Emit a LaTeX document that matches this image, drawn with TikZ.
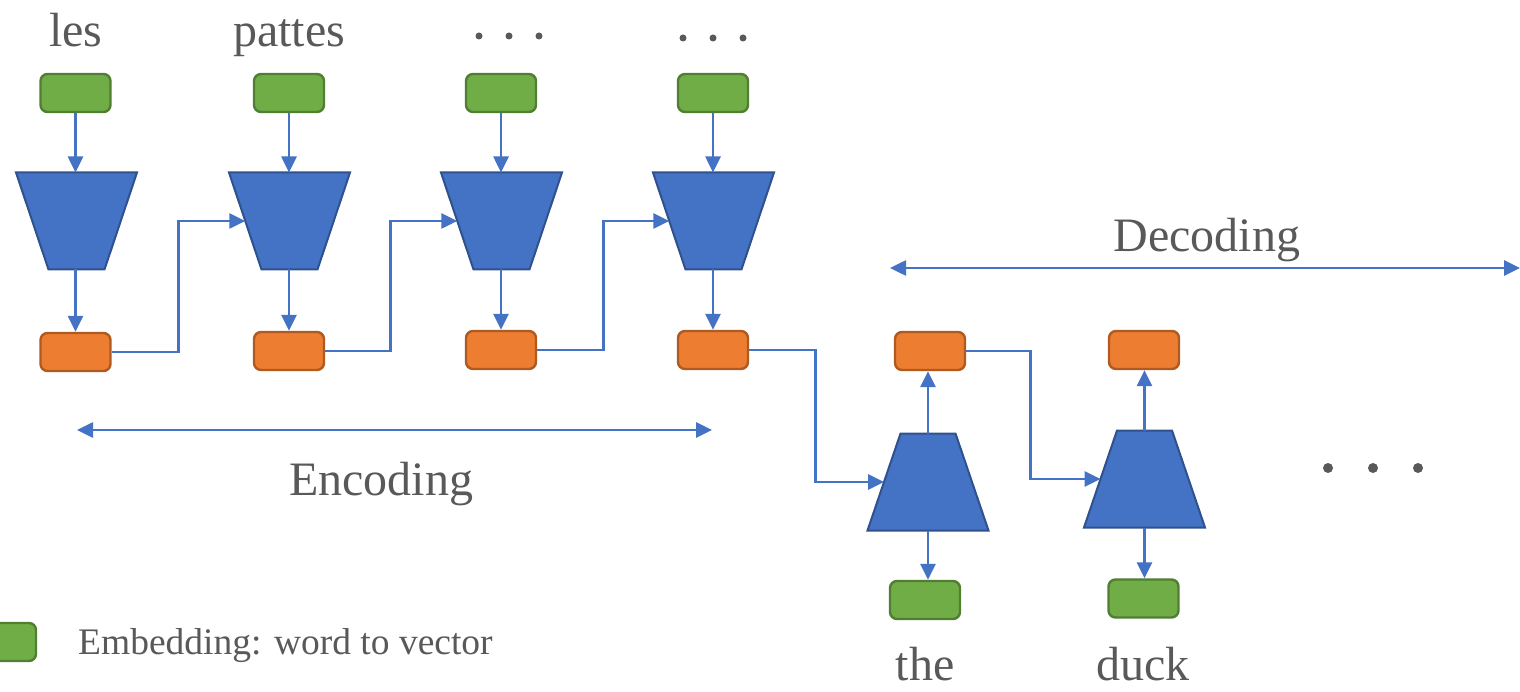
\documentclass[tikz,border=0pt]{standalone}
\usepackage{fontspec}
\setmainfont{Liberation Serif}
\usetikzlibrary{arrows.meta}

\definecolor{embfill}{HTML}{70AD47}
\definecolor{embdraw}{HTML}{507E32}
\definecolor{hidfill}{HTML}{ED7D31}
\definecolor{hiddraw}{HTML}{AE5A21}
\definecolor{netfill}{HTML}{4472C4}
\definecolor{netdraw}{HTML}{2F528F}
\definecolor{linkblue}{HTML}{4472C4}
\definecolor{txtgray}{HTML}{595959}

% A recurrent cell: a trapezoid inside the named frame #1,
% half widths #2 (top) and #3 (bottom); (#1-in) is the middle of its left side.
\newcommand\rnncell[3]{%
  \path[cellstyle] ([xshift=-#2pt]#1.north) -- ([xshift=#2pt]#1.north)
    -- ([xshift=#3pt]#1.south) -- ([xshift=-#3pt]#1.south) -- cycle;
  \coordinate (#1-in) at ([xshift={-(#2+#3)/2*1pt}]#1.center);
}

\begin{document}
\begin{tikzpicture}[x=1pt,y=-1pt,
  box/.style={line width=2.4pt, rounded corners=7pt, minimum width=70pt,
    minimum height=38pt, inner sep=0pt},
  emb/.style={box, draw=embdraw, fill=embfill},
  hid/.style={box, draw=hiddraw, fill=hidfill},
  frame/.style={minimum width=121pt, minimum height=97pt, inner sep=0pt,
    outer sep=0pt},
  cellstyle/.style={draw=netdraw, fill=netfill, line width=2pt,
    line join=miter},
  conn/.style={draw=linkblue, line width=2.6pt,
    -{Triangle[length=16pt,width=15pt]}},
  span/.style={draw=linkblue, line width=2.6pt,
    {Triangle[length=16pt,width=15pt]}-{Triangle[length=16pt,width=15pt]}},
  word/.style={text=txtgray, font=\fontsize{48}{58}\selectfont, inner sep=0pt,
    anchor=base},
  dot/.style={circle, fill=txtgray, inner sep=0pt, minimum size=#1}
]
\path[use as bounding box, clip] (0,0) rectangle (1520,692);

% encoder: input words, embeddings, cells, hidden states
\node[word] (w1) at (76,47) {les};
\node[word] (w2) at (289,47) {pattes};
\foreach \i/\x/\y in {1/479/36,2/509/36,3/539/36,4/683/38,5/713/38,6/743/38}
  \node[dot=7pt] (d\i) at (\x,\y) {};

\node[emb] (g1) at (75.5,93) {};
\node[emb] (g2) at (289,93) {};
\node[emb] (g3) at (501,93) {};
\node[emb] (g4) at (713,93) {};

\node[frame] (t1) at (76.5,221) {};
\node[frame] (t2) at (289.5,221) {};
\node[frame] (t3) at (501.5,221) {};
\node[frame] (t4) at (713.5,221) {};
\foreach \t in {t1,t2,t3,t4} \rnncell{\t}{60.5}{28};

\node[hid] (o1) at (75.5,352) {};
\node[hid] (o2) at (289,351) {};
\node[hid] (o3) at (501,350) {};
\node[hid] (o4) at (713,350) {};

\foreach \i in {1,...,4} {
  \draw[conn] (g\i.south) -- (g\i.south |- t\i.north);
  \draw[conn] (t\i.south -| g\i.south) -- (o\i.north);
}
\draw[conn] (o1.east) -- ++(67,0) |- (t2-in);
\draw[conn] (o2.east) -- ++(65,0) |- (t3-in);
\draw[conn] (o3.east) -- ++(66,0) |- (t4-in);

% encoding span
\coordinate (ea) at (77,430);
\coordinate (eb) at (712,430);
\draw[span] (ea) -- (eb);
\node[word] (enc) at (381,495) {Encoding};

% decoder
\node[frame] (t5) at (928,482) {};
\node[frame] (t6) at (1144.5,479) {};
\foreach \t in {t5,t6} \rnncell{\t}{27.5}{60.5};
\node[hid] (o5) at (930,351) {};
\node[hid] (o6) at (1144,350) {};
\node[emb] (g5) at (925,600) {};
\node[emb] (g6) at (1143.5,598.5) {};

\draw[conn] (o4.east) -- ++(66,0) |- (t5-in);
\draw[conn] (o5.east) -- ++(64,0) |- (t6-in);
\draw[conn] (t5.north) -- (t5.north |- o5.south);
\draw[conn] (t6.north) -- (t6.north |- o6.south);
\draw[conn] (t5.south) -- (t5.south |- g5.north);
\draw[conn] (t6.south) -- (t6.south |- g6.north);

\node[word] (w5) at (925,680) {the};
\node[word] (w6) at (1143,680) {duck};

\foreach \i/\x in {7/1328,8/1373,9/1418}
  \node[dot=10pt] (d\i) at (\x,468) {};

% decoding span
\coordinate (da) at (890,268);
\coordinate (db) at (1520,268);
\draw[span] (da) -- (db);
\node[word] (dectxt) at (1207,252) {Decoding};

% legend
\node[emb] (lg) at (1,642) {};
\node[word, anchor=base west, font=\fontsize{37.5}{45}\selectfont] (lt) at (78,654)
  {Embedding: word to vector};
\end{tikzpicture}
\end{document}
